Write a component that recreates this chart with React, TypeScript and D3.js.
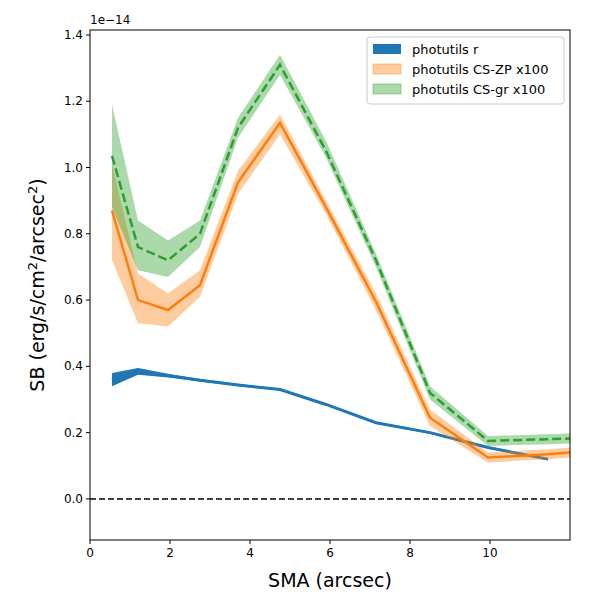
import * as d3 from "d3";

const sma = [0.55, 1.2, 1.95, 2.75, 3.7, 4.75, 5.9, 7.15, 8.5, 9.95, 11.45, 12.6];
const blue = [0.36, 0.385, 0.372, 0.358, 0.344, 0.33, 0.285, 0.23, 0.2, 0.155, 0.12];
const blueLo = [0.34, 0.375, 0.366, 0.354, 0.341, 0.327, 0.282, 0.227, 0.197, 0.152, 0.117];
const blueHi = [0.38, 0.395, 0.378, 0.362, 0.347, 0.333, 0.288, 0.233, 0.203, 0.158, 0.123];
const orange = [0.87, 0.6, 0.57, 0.645, 0.955, 1.135, 0.88, 0.595, 0.245, 0.125, 0.135, 0.145];
const orangeLo = [0.72, 0.53, 0.52, 0.61, 0.92, 1.1, 0.86, 0.57, 0.22, 0.11, 0.12, 0.13];
const orangeHi = [1.01, 0.68, 0.62, 0.69, 0.99, 1.16, 0.9, 0.62, 0.27, 0.14, 0.15, 0.16];
const green = [1.035, 0.76, 0.72, 0.8, 1.12, 1.31, 1.05, 0.72, 0.32, 0.175, 0.18, 0.185];
const greenLo = [0.88, 0.69, 0.67, 0.76, 1.09, 1.28, 1.03, 0.7, 0.3, 0.16, 0.165, 0.17];
const greenHi = [1.19, 0.84, 0.78, 0.84, 1.15, 1.34, 1.08, 0.74, 0.34, 0.19, 0.195, 0.2];
const xTicks = [0, 2, 4, 6, 8, 10];
const yTicks = [0, 0.2, 0.4, 0.6, 0.8, 1.0, 1.2, 1.4];
const legendLabels = ["photutils r", "photutils CS-ZP x100", "photutils CS-gr x100"];

const W = 600, H = 600;
const L = 90, R = 570, T = 30, B = 540;

export default function App() {
  const x = d3.scaleLinear().domain([0, 12]).range([L, R]);
  const y = d3.scaleLinear().domain([-0.124, 1.415]).range([B, T]);
  const line = (v: number[]) =>
    d3.line<number>().x((_, i) => x(sma[i])).y((d) => y(d))(v) ?? "";
  const band = (lo: number[], hi: number[]) =>
    d3.area<number>().x((_, i) => x(sma[i])).y0((_, i) => y(lo[i])).y1((d) => y(d))(hi) ?? "";
  const font = "DejaVu Sans, sans-serif";
  return (
    <svg width={W} height={H} style={{ position: "absolute", left: 0, top: 0 }} fontFamily={font}>
      <rect width={W} height={H} fill="white" />
      <defs>
        <clipPath id="c"><rect x={L} y={T} width={R - L} height={B - T} /></clipPath>
      </defs>
      <g clipPath="url(#c)">
        <line x1={L} x2={R} y1={y(0)} y2={y(0)} stroke="black" strokeWidth={1.5} strokeDasharray="6,3" />
        <path d={band(blueLo, blueHi)} fill="#1f77b4" />
        <path d={line(blue)} fill="none" stroke="#1f77b4" strokeWidth={3} />
        <path d={band(orangeLo, orangeHi)} fill="#ff7f0e" fillOpacity={0.4} />
        <path d={line(orange)} fill="none" stroke="#ff7f0e" strokeWidth={2.5} />
        <path d={band(greenLo, greenHi)} fill="#2ca02c" fillOpacity={0.4} />
        <path d={line(green)} fill="none" stroke="#2ca02c" strokeWidth={2.5} strokeDasharray="9,4" />
      </g>
      <rect x={L} y={T} width={R - L} height={B - T} fill="none" stroke="black" strokeWidth={1} />
      {xTicks.map((t) => (
        <g key={t}>
          <line x1={x(t)} x2={x(t)} y1={B} y2={B + 4} stroke="black" />
          <text x={x(t)} y={B + 17} fontSize={12} textAnchor="middle">{t}</text>
        </g>
      ))}
      {yTicks.map((t) => (
        <g key={t}>
          <line x1={L - 4} x2={L} y1={y(t)} y2={y(t)} stroke="black" />
          <text x={L - 7} y={y(t) + 4} fontSize={12} textAnchor="end">{t.toFixed(1)}</text>
        </g>
      ))}
      <text x={L} y={T - 6} fontSize={12}>1e−14</text>
      <text x={(L + R) / 2} y={587} fontSize={19} textAnchor="middle">SMA (arcsec)</text>
      <text transform={`translate(44,${(T + B) / 2}) rotate(-90)`} fontSize={19} textAnchor="middle">
        SB (erg/s/cm<tspan baselineShift="super" fontSize={13}>2</tspan>/arcsec<tspan baselineShift="super" fontSize={13}>2</tspan>)
      </text>
      <g transform="translate(367,37)">
        <rect width={197} height={67} fill="white" stroke="#ccc" rx={3} />
        {legendLabels.map((lab, i) => (
          <g key={lab} transform={`translate(6,${12 + i * 20})`}>
            <rect width={28} height={10} y={-5}
              fill={["#1f77b4", "#ff7f0e", "#2ca02c"][i]}
              fillOpacity={i === 0 ? 1 : 0.4}
              stroke={i === 0 ? "none" : ["#1f77b4", "#ff7f0e", "#2ca02c"][i]}
              strokeOpacity={0.4} />
            <text x={39} y={4.5} fontSize={13}>{lab}</text>
          </g>
        ))}
      </g>
    </svg>
  );
}
